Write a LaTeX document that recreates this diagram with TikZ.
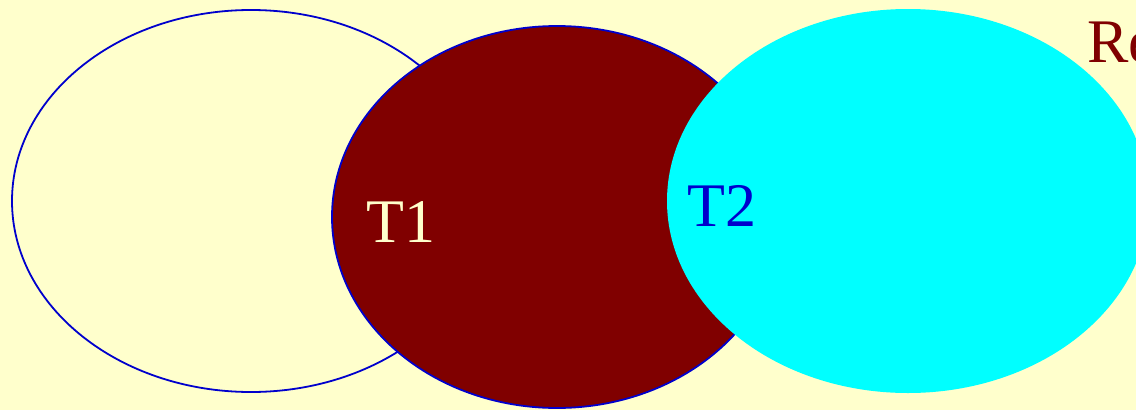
\documentclass[tikz,border=0pt]{standalone}
\usepackage{fontspec}
\setmainfont{Liberation Serif}
\definecolor{bgyellow}{HTML}{FFFFCC}
\definecolor{maroon}{HTML}{800000}
\definecolor{aqua}{HTML}{00FFFF}
\definecolor{edgeblue}{HTML}{0000CC}
\begin{document}
\begin{tikzpicture}[x=1pt,y=-1pt,
  label/.style={inner sep=0pt,anchor=base west,font=\fontsize{62}{62}\selectfont}]
  % canvas
  \fill[bgyellow] (0,0) rectangle (1136,410);
  \useasboundingbox (0,0) rectangle (1136,410);
  \begin{scope}
    \clip (0,0) rectangle (1136,410);
    % three overlapping sets
    \draw[edgeblue,line width=1.8pt] (251,201) ellipse [x radius=239,y radius=191];
    \draw[edgeblue,fill=maroon,line width=1.8pt] (557,217) ellipse [x radius=225,y radius=191];
    \fill[aqua] (908,201) ellipse [x radius=241,y radius=192];
    % labels
    \node[label,text=bgyellow] (t1) at (366,242) {T1};
    \node[label,text=edgeblue] (t2) at (687,226) {T2};
    \node[label,text=maroon] (re) at (1087,62) {Re};
  \end{scope}
\end{tikzpicture}
\end{document}
